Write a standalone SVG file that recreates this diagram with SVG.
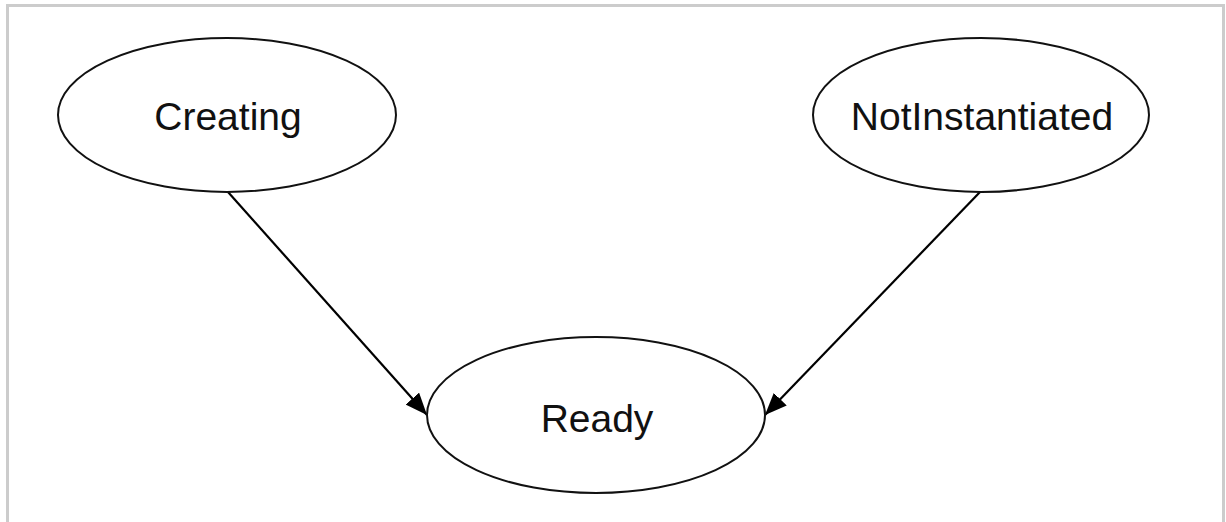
<svg xmlns="http://www.w3.org/2000/svg" width="1226" height="522" viewBox="0 0 1226 522">
<style>
.node ellipse{fill:#fff;stroke:#111;stroke-width:2}
.node text{font-family:"Liberation Sans",Arial,sans-serif;font-size:39px;fill:#111;text-anchor:middle}
.edge{stroke:#000;stroke-width:2.2;fill:none;marker-end:url(#arr)}
</style>
<defs>
<marker id="arr" markerWidth="22" markerHeight="18" refX="22" refY="9" orient="auto" markerUnits="userSpaceOnUse">
<path d="M0,0 L22,9 L0,18 Z" fill="#000"/>
</marker>
</defs>
<rect x="0" y="0" width="1226" height="522" fill="#fff"/>
<path d="M7.5,522 V5.5 H1223.5 V522" fill="none" stroke="#cccccc" stroke-width="3"/>
<g id="edges">
<line class="edge" x1="228" y1="192" x2="427" y2="415"/>
<line class="edge" x1="980" y1="192" x2="765" y2="415"/>
</g>
<g id="Creating" class="node">
<ellipse cx="227" cy="115" rx="169" ry="77"/>
<text x="228" y="130">Creating</text>
</g>
<g id="NotInstantiated" class="node">
<ellipse cx="981" cy="115" rx="168" ry="77"/>
<text x="982" y="130">NotInstantiated</text>
</g>
<g id="Ready" class="node">
<ellipse cx="596" cy="415" rx="169" ry="78"/>
<text x="597" y="432">Ready</text>
</g>
</svg>
